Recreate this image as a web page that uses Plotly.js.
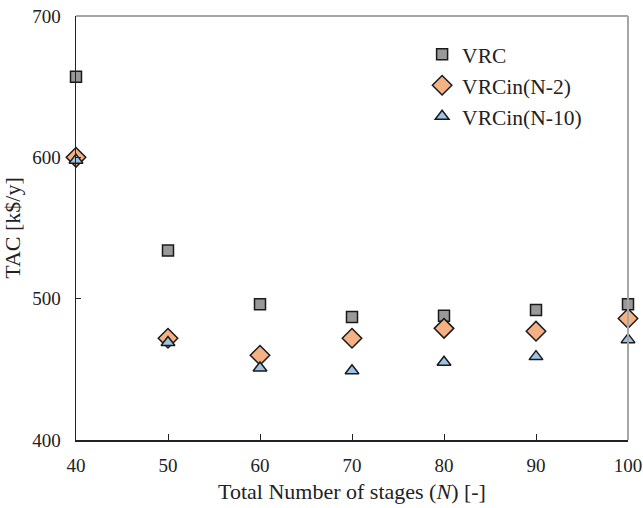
<!DOCTYPE html>
<html>
<head>
<meta charset="utf-8">
<script src="https://cdn.plot.ly/plotly-3.0.1.min.js"></script>
<style>html,body{margin:0;padding:0;background:#fff;}#chart{width:643px;height:508px;}</style>
</head>
<body>
<div id="chart"></div>
<script>
var stages = [40, 50, 60, 70, 80, 90, 100];
var vrc = [657, 534, 496, 487, 488, 492, 496];
var vrcinN2 = [600, 472, 460, 472, 479, 477, 486];
var vrcinN10 = [598, 469, 451, 449, 455, 459, 471];
var seriesNames = ['VRC', 'VRCin(N-2)', 'VRCin(N-10)'];
var xTicks = [40, 50, 60, 70, 80, 90, 100];
var yTicks = [400, 500, 600, 700];

var font = 'Liberation Serif, Times New Roman, serif';
var traces = [
  {x: stages, y: vrc, name: seriesNames[0], mode: 'markers', type: 'scatter', cliponaxis: false,
   marker: {symbol: 'square', size: 11, color: '#999999', line: {color: '#1a1a1a', width: 1.5}}},
  {x: stages, y: vrcinN2, name: seriesNames[1], mode: 'markers', type: 'scatter', cliponaxis: false,
   marker: {symbol: 'diamond', size: 15, color: '#F4B183', line: {color: '#1a1a1a', width: 1.5}}},
  {x: stages, y: vrcinN10, name: seriesNames[2], mode: 'markers', type: 'scatter', cliponaxis: false,
   marker: {symbol: 'triangle-up', size: 12, color: '#9DC3E6', line: {color: '#1a1a1a', width: 1.5}}}
];

var layout = {
  width: 643, height: 508,
  margin: {l: 76, r: 15, t: 16, b: 68},
  paper_bgcolor: '#fff', plot_bgcolor: '#fff',
  font: {family: font, size: 19, color: '#222'},
  showlegend: true,
  legend: {x: 0.627, y: 0.958, xanchor: 'left', yanchor: 'top', bgcolor: 'rgba(0,0,0,0)',
           font: {family: font, size: 21.5, color: '#222'}, itemwidth: 30, tracegroupgap: 0},
  xaxis: {
    range: [40, 100], tickvals: xTicks,
    ticks: 'inside', ticklen: 6, tickcolor: '#222', tickwidth: 1,
    showline: true, linecolor: '#222', linewidth: 1.5, showgrid: false, zeroline: false,
    ticklabelstandoff: 8,
    tickfont: {family: font, size: 19, color: '#222'},
    title: {text: 'Total Number of stages (<i>N</i>) [-]', font: {family: font, size: 22, color: '#222'}, standoff: 8}
  },
  yaxis: {
    range: [400, 700], tickvals: yTicks,
    ticks: 'inside', ticklen: 5, tickcolor: '#222', tickwidth: 1,
    showline: true, linecolor: '#222', linewidth: 1.5, showgrid: false, zeroline: false,
    ticklabelstandoff: 10,
    tickfont: {family: font, size: 19, color: '#222'},
    title: {text: 'TAC [k$/y]', font: {family: font, size: 22, color: '#222'}, standoff: 6}
  },
  shapes: [
    {type: 'line', xref: 'paper', yref: 'paper', x0: 0, x1: 1, y0: 1, y1: 1, line: {color: '#a6a6a6', width: 2}},
    {type: 'line', xref: 'paper', yref: 'paper', x0: 1, x1: 1, y0: 0, y1: 1, line: {color: '#a6a6a6', width: 2}}
  ]
};

Plotly.newPlot('chart', traces, layout, {displayModeBar: false, staticPlot: true});
</script>
</body>
</html>
